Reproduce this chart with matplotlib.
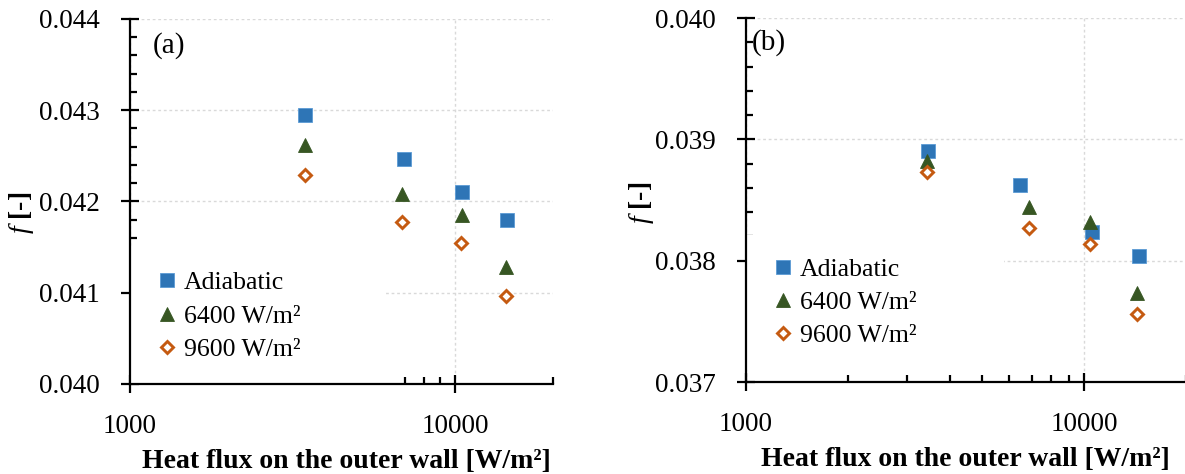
import matplotlib
matplotlib.use("Agg")
import matplotlib.pyplot as plt
from matplotlib.ticker import MultipleLocator, LogLocator, FuncFormatter, NullFormatter

plt.rcParams['font.family'] = ['Liberation Serif', 'DejaVu Serif']
plt.rcParams['mathtext.fontset'] = 'custom'
plt.rcParams['mathtext.it'] = 'Liberation Serif:italic'
plt.rcParams['mathtext.rm'] = 'Liberation Serif'

# Heat flux positions [W/m2] and friction factor f for each wall condition
labels = ["Adiabatic", "6400 W/m²", "9600 W/m²"]

# Panel (a)
a_x_adiabatic = [3460, 6950, 10500, 14450]
a_x_6400 = [3450, 6880, 10480, 14350]
a_x_9600 = [3450, 6880, 10450, 14350]
a_f_adiabatic = [0.04295, 0.04247, 0.04210, 0.04180]
a_f_6400 = [0.04262, 0.04208, 0.04185, 0.04128]
a_f_9600 = [0.04229, 0.04177, 0.04154, 0.04096]

# Panel (b)
b_x_adiabatic = [3450, 6460, 10520, 14500]
b_x_6400 = [3440, 6880, 10400, 14330]
b_x_9600 = [3440, 6880, 10400, 14330]
b_f_adiabatic = [0.03890, 0.03862, 0.03824, 0.03804]
b_f_6400 = [0.03882, 0.03844, 0.03832, 0.03773]
b_f_9600 = [0.03873, 0.03827, 0.03814, 0.03756]

fig = plt.figure(figsize=(11.85, 4.74), dpi=100)
ax_a = fig.add_axes([0.1097, 0.190, 0.357, 0.770])
ax_b = fig.add_axes([0.6295, 0.194, 0.3713, 0.768])

blue = '#2E75B6'
green = '#375623'
orange = '#C55A11'
grid_c = '#D9D9D9'


def style_axes(ax, ylo, yhi, tag, tag_xy, lab_xy, xlab_xy, leg_box):
    ax.set_xscale('log')
    ax.set_xlim(1000, 20000)
    ax.set_ylim(ylo, yhi)
    for s in ('top', 'right'):
        ax.spines[s].set_visible(False)
    for s in ('left', 'bottom'):
        ax.spines[s].set_linewidth(1.6)
        ax.spines[s].set_color('black')
    ax.xaxis.set_major_locator(LogLocator(base=10, numticks=10))
    ax.xaxis.set_minor_locator(LogLocator(base=10, subs=range(2, 10), numticks=20))
    ax.xaxis.set_major_formatter(FuncFormatter(lambda v, p: f"{v:.0f}"))
    ax.xaxis.set_minor_formatter(NullFormatter())
    ax.yaxis.set_major_locator(MultipleLocator(0.001))
    ax.yaxis.set_minor_locator(MultipleLocator(0.0002))
    ax.yaxis.set_major_formatter(FuncFormatter(lambda v, p: f"{v:.3f}"))
    ax.tick_params(which='major', direction='inout', length=13, width=1.6,
                   labelsize=19.5, color='black')
    ax.tick_params(axis='x', which='major', pad=15)
    ax.tick_params(axis='y', which='major', pad=15)
    ax.tick_params(which='minor', direction='in', length=5, width=1.6, color='black')
    ax.grid(True, which='major', color=grid_c, linestyle=(0, (2, 2)), linewidth=1.0)
    ax.set_axisbelow(True)
    ax.set_xlabel("Heat flux on the outer wall [W/m²]", fontsize=20, fontweight='bold')
    ax.xaxis.set_label_coords(*xlab_xy)
    ax.set_ylabel(r"$\mathit{f}$ [-]", fontsize=20, fontweight='bold')
    ax.yaxis.set_label_coords(*lab_xy)
    ax.text(tag_xy[0], tag_xy[1], tag, transform=ax.transAxes, fontsize=21,
            ha='left', va='center')
    leg = ax.legend(loc='upper left', bbox_to_anchor=leg_box, mode='expand',
                    borderaxespad=0, frameon=True, fancybox=False, fontsize=18.5,
                    handlelength=1.1, handletextpad=0.1, borderpad=0.9,
                    labelspacing=0.4)
    leg.get_frame().set_facecolor('white')
    leg.get_frame().set_edgecolor('none')
    leg.get_frame().set_alpha(1.0)
    leg.set_zorder(1.5)


def draw_points(ax, xs, fs):
    ax.plot(xs[0], fs[0], linestyle='none', marker='s', markersize=10,
            color=blue, markeredgecolor='#5B9BD5', markeredgewidth=0.6,
            label=labels[0], zorder=3)
    ax.plot(xs[1], fs[1], linestyle='none', marker='^', markersize=10,
            color=green, markeredgecolor=green, markeredgewidth=0.6,
            label=labels[1], zorder=3)
    ax.plot(xs[2], fs[2], linestyle='none', marker='D', markersize=6.4,
            markerfacecolor='white', markeredgecolor=orange, markeredgewidth=2.1,
            label=labels[2], zorder=3)


draw_points(ax_a, [a_x_adiabatic, a_x_6400, a_x_9600],
            [a_f_adiabatic, a_f_6400, a_f_9600])
draw_points(ax_b, [b_x_adiabatic, b_x_6400, b_x_9600],
            [b_f_adiabatic, b_f_6400, b_f_9600])

style_axes(ax_a, 0.040, 0.044, "(a)", (0.054, 0.926), (-0.222, 0.47), (0.511, -0.178),
           (0.0, 0.0, 0.605, 0.372))
style_axes(ax_b, 0.037, 0.040, "(b)", (0.014, 0.934), (-0.205, 0.492), (0.498, -0.178),
           (0.0, 0.0, 0.586, 0.405))

fig.savefig("out.png", dpi=100)
